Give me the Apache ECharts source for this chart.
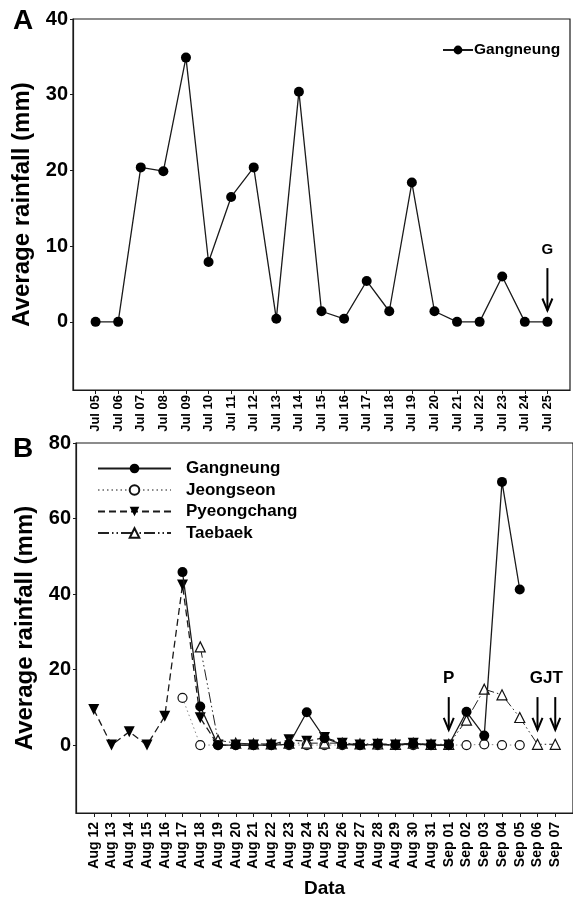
<!DOCTYPE html>
<html>
<head>
<meta charset="utf-8">
<script src="https://cdn.jsdelivr.net/npm/echarts@6/dist/echarts.min.js"></script>
<style>
html, body { margin: 0; padding: 0; background: #fff; }
#chart { width: 573px; height: 902px; }
</style>
</head>
<body>
<div id="chart"></div>
<script>
var julDates = ['Jul 05', 'Jul 06', 'Jul 07', 'Jul 08', 'Jul 09', 'Jul 10', 'Jul 11', 'Jul 12', 'Jul 13', 'Jul 14',
    'Jul 15', 'Jul 16', 'Jul 17', 'Jul 18', 'Jul 19', 'Jul 20', 'Jul 21', 'Jul 22', 'Jul 23', 'Jul 24', 'Jul 25'];
var julGangneung = [0, 0, 20.4, 19.9, 34.9, 7.9, 16.5, 20.4, 0.4, 30.4, 1.4, 0.4, 5.4, 1.4, 18.4, 1.4, 0, 0, 6.0, 0, 0];

var augDates = ['Aug 12', 'Aug 13', 'Aug 14', 'Aug 15', 'Aug 16', 'Aug 17', 'Aug 18', 'Aug 19', 'Aug 20', 'Aug 21',
    'Aug 22', 'Aug 23', 'Aug 24', 'Aug 25', 'Aug 26', 'Aug 27', 'Aug 28', 'Aug 29', 'Aug 30', 'Aug 31',
    'Sep 01', 'Sep 02', 'Sep 03', 'Sep 04', 'Sep 05', 'Sep 06', 'Sep 07'];
var augGangneung = [null, null, null, null, null, 45.8, 10.2, 0, 0, 0, 0, 0.2, 8.7, 1.8, 0.2, 0, 0.2, 0, 0.3, 0,
    0, 8.8, 2.5, 69.7, 41.2, null, null];
var augJeongseon = [null, null, null, null, null, 12.5, 0, 0, 0, 0, 0, 0, 0, 0, 0, 0, 0, 0, 0, 0,
    0, 0, 0.2, 0, 0, null, null];
var augPyeongchang = [9.4, 0, 3.5, 0, 7.6, 42.4, 7.2, 0, 0, 0, 0, 1.4, 1.0, 2.0, 0.5, 0, 0.2, 0, 0.5, 0,
    0, null, null, null, null, null, null];
var augTaebaek = [null, null, null, null, null, null, 26.0, 1.3, 0.5, 0.3, 0.3, 0.5, 0.5, 0.5, 0.5, 0.3, 0.3, 0.2, 0.5, 0.2,
    0.2, 6.6, 14.8, 13.3, 7.3, 0.2, 0.2];

// arrows: [day index, tail value, head value]
var arrowsA = [[20, 7.1, 1.5]];
var arrowsB = [[20, 12.7, 4], [25, 12.7, 4], [26, 12.7, 4]];
// notes over the arrows
var noteTextA = ['G'];
var notePosA = [[20, 9.5]];
var noteTextB = ['P', 'GJT'];
var notePosB = [[20, 17.7], [25.5, 17.7]];

var FONT = '"Liberation Sans", Arial, sans-serif';
var INK = '#1a1a1a';

function toPairs(arr) {
    var out = [];
    arr.forEach(function (v, i) {
        if (v !== null) out.push([i, v]);
    });
    return out;
}

function range(n) {
    var r = [];
    for (var i = 0; i < n; i++) r.push(i);
    return r;
}

function arrowItem(params, api) {
    var tail = api.coord([api.value(0), api.value(1)]);
    var head = api.coord([api.value(0), api.value(2)]);
    return {
        type: 'group',
        children: [{
            type: 'line',
            shape: {x1: tail[0], y1: tail[1], x2: head[0], y2: head[1]},
            style: {stroke: '#000', lineWidth: 2}
        }, {
            type: 'polyline',
            shape: {points: [[head[0] - 5, head[1] - 12], [head[0], head[1]], [head[0] + 5, head[1] - 12]]},
            style: {stroke: '#000', lineWidth: 2, fill: null}
        }]
    };
}

function noteRenderer(texts, size) {
    return function (params, api) {
        var p = api.coord([api.value(0), api.value(1)]);
        return {
            type: 'text',
            x: p[0],
            y: p[1],
            style: {
                text: texts[params.dataIndex],
                align: 'center',
                verticalAlign: 'middle',
                font: 'bold ' + size + 'px ' + FONT,
                fill: '#000'
            }
        };
    };
}

function yAxisOf(grid, min, max, ticks) {
    return {
        gridIndex: grid,
        type: 'value',
        min: min,
        max: max,
        name: 'Average rainfall (mm)',
        nameLocation: 'middle',
        nameGap: 33,
        nameTextStyle: {fontFamily: FONT, fontWeight: 'bold', fontSize: 24, color: '#000'},
        axisLine: {show: true, onZero: false, lineStyle: {color: INK, width: 1.2}},
        axisTick: {show: true, length: 3, customValues: ticks, lineStyle: {color: INK}},
        axisLabel: {customValues: ticks, margin: 5, fontFamily: FONT, fontWeight: 'bold', fontSize: 20, color: '#000'},
        splitLine: {show: false}
    };
}

function xAxisOf(grid, labels, size, margin) {
    return {
        gridIndex: grid,
        type: 'value',
        min: -1,
        max: labels.length,
        axisLine: {show: true, onZero: false, lineStyle: {color: INK, width: 1.2}},
        axisTick: {show: true, length: 4, customValues: range(labels.length), lineStyle: {color: INK}},
        axisLabel: {
            customValues: range(labels.length),
            rotate: 90,
            margin: margin,
            fontFamily: FONT,
            fontWeight: 'bold',
            fontSize: size,
            color: '#000',
            formatter: function (v) { return labels[v] || ''; }
        },
        splitLine: {show: false}
    };
}

var chart = echarts.init(document.getElementById('chart'));

var xB = xAxisOf(1, augDates, 14, 9);
xB.name = 'Data';
xB.nameLocation = 'middle';
xB.nameGap = 66;
xB.nameTextStyle = {fontFamily: FONT, fontWeight: 'bold', fontSize: 19, color: '#000', verticalAlign: 'top'};

var hollow = {color: '#fff', borderColor: '#111', borderWidth: 1.2};

var option = {
    animation: false,
    backgroundColor: '#fff',
    title: [
        {text: 'A', left: 8, top: 2, textStyle: {fontFamily: FONT, fontWeight: 'bold', fontSize: 28, color: '#000'}},
        {text: 'B', left: 8, top: 430, textStyle: {fontFamily: FONT, fontWeight: 'bold', fontSize: 28, color: '#000'}}
    ],
    grid: [
        {left: 73, top: 19, width: 497, height: 371, show: true, borderColor: INK, borderWidth: 1.2, backgroundColor: 'transparent'},
        {left: 76, top: 443, width: 498, height: 370, show: true, borderColor: INK, borderWidth: 1.2, backgroundColor: 'transparent'}
    ],
    legend: [{
        data: ['Gangneung'],
        orient: 'vertical',
        left: 437,
        top: 37,
        itemWidth: 30,
        itemHeight: 11,
        selectedMode: false,
        textStyle: {fontFamily: FONT, fontWeight: 'bold', fontSize: 15.5, color: '#000', padding: [0, 0, 0, -4]}
    }, {
        data: ['Gangneung', 'Jeongseon', 'Pyeongchang', 'Taebaek'],
        orient: 'vertical',
        left: 92,
        top: 455,
        itemWidth: 73,
        itemHeight: 12,
        itemGap: 4.5,
        selectedMode: false,
        textStyle: {fontFamily: FONT, fontWeight: 'bold', fontSize: 17, lineHeight: 14, color: '#000', padding: [0, 0, 0, 10]}
    }],
    xAxis: [xAxisOf(0, julDates, 13, 5), xB],
    yAxis: [yAxisOf(0, -9, 40, [0, 10, 20, 30, 40]), yAxisOf(1, -18, 80, [0, 20, 40, 60, 80])],
    series: [{
        name: 'Gangneung',
        type: 'line',
        xAxisIndex: 0,
        yAxisIndex: 0,
        data: toPairs(julGangneung),
        symbol: 'circle',
        symbolSize: 10,
        itemStyle: {color: '#000'},
        lineStyle: {color: INK, width: 1.3},
        emphasis: {disabled: true}
    }, {
        type: 'custom',
        xAxisIndex: 0,
        yAxisIndex: 0,
        renderItem: arrowItem,
        data: arrowsA,
        silent: true
    }, {
        type: 'custom',
        xAxisIndex: 0,
        yAxisIndex: 0,
        renderItem: noteRenderer(noteTextA, 15),
        data: notePosA,
        silent: true
    }, {
        name: 'Gangneung',
        type: 'line',
        xAxisIndex: 1,
        yAxisIndex: 1,
        data: toPairs(augGangneung),
        symbol: 'circle',
        symbolSize: 10,
        z: 5,
        itemStyle: {color: '#000'},
        lineStyle: {color: INK, width: 1.3},
        emphasis: {disabled: true}
    }, {
        name: 'Jeongseon',
        type: 'line',
        xAxisIndex: 1,
        yAxisIndex: 1,
        data: toPairs(augJeongseon),
        symbol: 'circle',
        symbolSize: 9,
        showAllSymbol: true,
        z: 3,
        itemStyle: hollow,
        lineStyle: {color: '#8a8a8a', width: 1, type: [1.5, 3]},
        emphasis: {disabled: true}
    }, {
        name: 'Pyeongchang',
        type: 'line',
        xAxisIndex: 1,
        yAxisIndex: 1,
        data: toPairs(augPyeongchang),
        symbol: 'triangle',
        symbolRotate: 180,
        symbolSize: 11,
        showAllSymbol: true,
        z: 4,
        itemStyle: {color: '#000'},
        lineStyle: {color: INK, width: 1.3, type: [7, 4]},
        emphasis: {disabled: true}
    }, {
        name: 'Taebaek',
        type: 'line',
        xAxisIndex: 1,
        yAxisIndex: 1,
        data: toPairs(augTaebaek),
        symbol: 'triangle',
        symbolSize: 10,
        showAllSymbol: true,
        z: 4,
        itemStyle: hollow,
        lineStyle: {color: '#222', width: 1, type: [11, 3, 1.5, 3, 1.5, 3]},
        emphasis: {disabled: true}
    }, {
        type: 'custom',
        xAxisIndex: 1,
        yAxisIndex: 1,
        renderItem: arrowItem,
        data: arrowsB,
        silent: true
    }, {
        type: 'custom',
        xAxisIndex: 1,
        yAxisIndex: 1,
        renderItem: noteRenderer(noteTextB, 17),
        data: notePosB,
        silent: true
    }]
};

chart.setOption(option);
</script>
</body>
</html>
